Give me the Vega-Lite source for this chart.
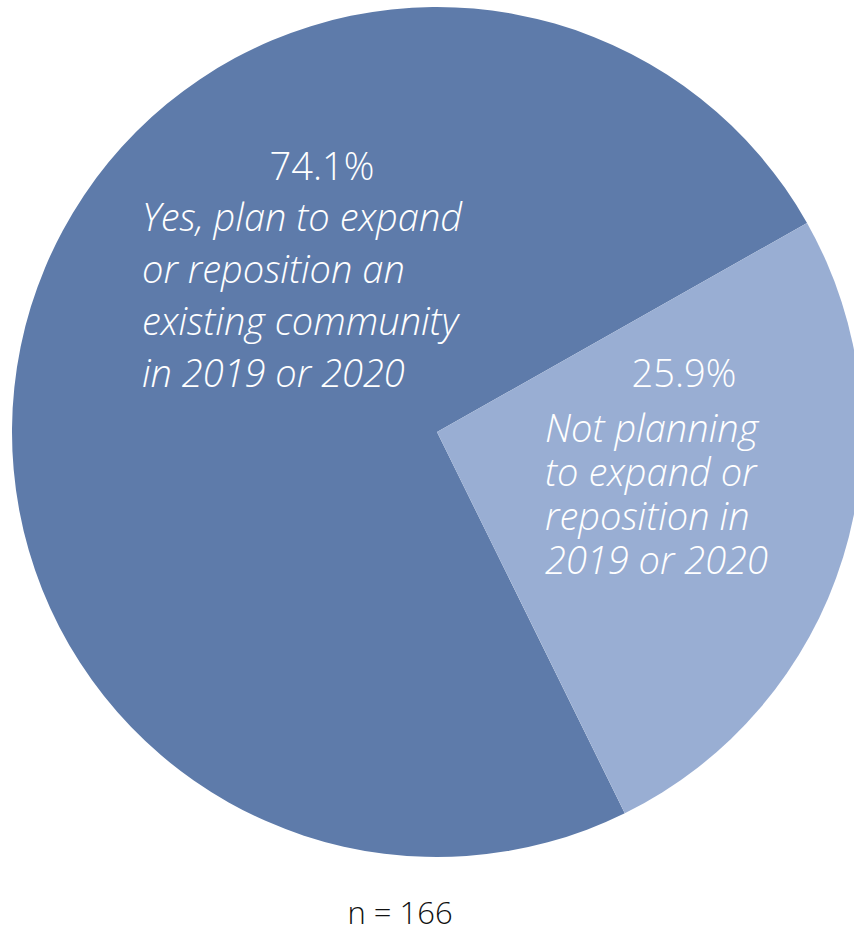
{
  "$schema": "https://vega.github.io/schema/vega-lite/v6.json",
  "width": 874,
  "height": 864,
  "autosize": "none",
  "padding": {"left": 0, "top": 0, "right": 0, "bottom": 69},
  "background": "white",
  "view": {"stroke": null},
  "title": {"text": "n = 166", "orient": "bottom", "anchor": "middle", "dx": -37, "offset": 60, "baseline": "alphabetic", "fontSize": 31, "font": "Open Sans", "fontWeight": 300, "color": "#111111"},
  "data": {"values": [
    {"answer": "Yes", "share": 74.1, "pct": "74.1%", "desc": ["Yes, plan to expand", "or reposition an", "existing community", "in 2019 or 2020"]},
    {"answer": "No", "share": 25.9, "pct": "25.9%", "desc": ["Not planning", "to expand or", "reposition in", "2019 or 2020"]}
  ]},
  "encoding": {
    "theta": {"field": "share", "type": "quantitative", "stack": true, "scale": {"range": [2.684, 8.967]}},
    "order": {"field": "share", "sort": "descending"}
  },
  "layer": [
    {
      "mark": {"type": "arc", "outerRadius": 425},
      "encoding": {"color": {"field": "answer", "type": "nominal", "scale": {"domain": ["Yes", "No"], "range": ["#5E7BAA", "#99AED3"]}, "legend": null}}
    },
    {
      "transform": [{"filter": "datum.answer === 'Yes'"}],
      "mark": {"type": "text", "radius": 0, "dx": -115, "dy": -252, "align": "center", "baseline": "alphabetic", "fontSize": 38, "fontWeight": 300, "font": "Open Sans", "fill": "white"},
      "encoding": {"text": {"field": "pct"}}
    },
    {
      "transform": [{"filter": "datum.answer === 'Yes'"}],
      "mark": {"type": "text", "radius": 0, "dx": -295, "dy": -201, "align": "left", "baseline": "alphabetic", "fontSize": 38, "lineHeight": 52, "fontWeight": 300, "font": "Open Sans", "fontStyle": "italic", "fill": "white"},
      "encoding": {"text": {"field": "desc"}}
    },
    {
      "transform": [{"filter": "datum.answer === 'No'"}],
      "mark": {"type": "text", "radius": 0, "dx": 247, "dy": -45, "align": "center", "baseline": "alphabetic", "fontSize": 38, "fontWeight": 300, "font": "Open Sans", "fill": "white"},
      "encoding": {"text": {"field": "pct"}}
    },
    {
      "transform": [{"filter": "datum.answer === 'No'"}],
      "mark": {"type": "text", "radius": 0, "dx": 108, "dy": 10, "align": "left", "baseline": "alphabetic", "fontSize": 38, "lineHeight": 44, "fontWeight": 300, "font": "Open Sans", "fontStyle": "italic", "fill": "white"},
      "encoding": {"text": {"field": "desc"}}
    }
  ]
}
